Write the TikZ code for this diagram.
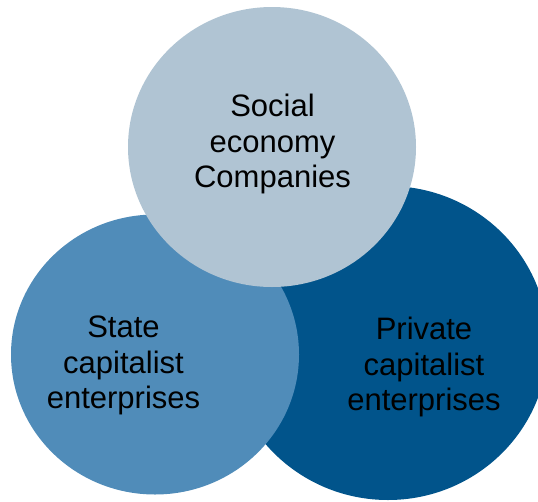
\documentclass[tikz,border=0pt]{standalone}
\usepackage{fontspec}
\setmainfont{Liberation Sans}
\definecolor{topc}{RGB}{176,196,211}
\definecolor{leftc}{RGB}{80,140,185}
\definecolor{rightc}{RGB}{1,84,139}
\begin{document}
\begin{tikzpicture}[x=1pt,y=-1pt,
  lbl/.style={align=center,inner sep=0pt,font=\fontsize{31}{35.6}\selectfont,text=black}]
\useasboundingbox (0,0) rectangle (538,501);
\clip (0,0) rectangle (538,501);
% circles
\fill[rightc] (388,343) ellipse [x radius=160, y radius=157];
\fill[leftc] (155,354.5) ellipse [x radius=144, y radius=140];
\fill[topc] (272,147) ellipse [x radius=144, y radius=140];
% labels
\node[lbl] (social) at (272.5,144.3) {Social\\economy\\Companies};
\node[lbl] (state) at (123.5,365.5) {State\\capitalist\\enterprises};
\node[lbl] (private) at (424,367) {Private\\capitalist\\enterprises};
\end{tikzpicture}
\end{document}
